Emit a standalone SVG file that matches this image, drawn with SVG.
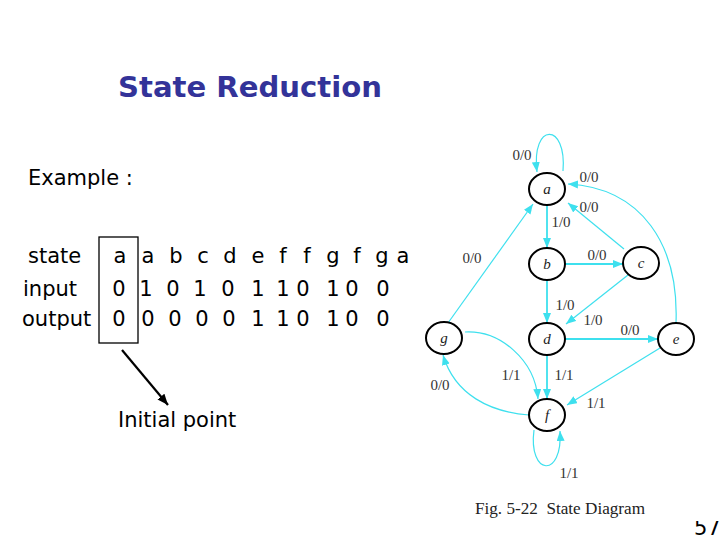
<svg xmlns="http://www.w3.org/2000/svg" width="720" height="540" viewBox="0 0 720 540">
<style>
.body{font-family:"DejaVu Sans","Liberation Sans",sans-serif;font-size:21px;fill:#000}
.title{font-family:"DejaVu Sans","Liberation Sans",sans-serif;font-size:28px;font-weight:bold;fill:#333399}
.node ellipse{fill:#fff;stroke:#000;stroke-width:2}
.nl{font-family:"Liberation Serif","DejaVu Serif",serif;font-style:italic;font-size:15px;fill:#222;text-anchor:middle}
.el{font-family:"Liberation Serif","DejaVu Serif",serif;font-size:15px;fill:#333;text-anchor:middle}
.e{fill:none;stroke:#3ee0ee;stroke-width:1.2}
.e2{fill:none;stroke:#3ee0ee;stroke-width:1.8}
.cap{font-family:"Liberation Serif","DejaVu Serif",serif;font-size:17px;fill:#222}
</style>
<defs>
<marker id="ah" markerUnits="userSpaceOnUse" markerWidth="11" markerHeight="9" refX="10" refY="4" orient="auto">
<path d="M0,0 L10,4 L0,8 z" fill="#3ee0ee"/>
</marker>
<marker id="bh" markerUnits="userSpaceOnUse" markerWidth="12" markerHeight="10" refX="11" refY="4.5" orient="auto">
<path d="M0,0 L11,4.5 L0,9 z" fill="#000"/>
</marker>
<clipPath id="pg"><rect x="680" y="521" width="40" height="19"/></clipPath>
</defs>
<rect width="720" height="540" fill="#fff"/>

<text class="title" x="118" y="97" textLength="264" lengthAdjust="spacingAndGlyphs">State Reduction</text>
<text class="body" x="28" y="185">Example :</text>

<g id="table">
<text class="body" x="28" y="263">state</text>
<text class="body" x="23" y="296">input</text>
<text class="body" x="22" y="326">output</text>
<text class="body" text-anchor="middle" x="120 134 148 162 176 190 203 216 230 244 258 270 283 295 307 320 333 345 357 370 382 393 403" y="263">a a b c d e f f g f g a</text>
<text class="body" text-anchor="middle" x="119 132 146 160 173 187 200 214 228 243 258 270 283 293 303 318 333 343 352 368 383" y="296">0 1 0 1 0 1 1 0 1 0 0</text>
<text class="body" text-anchor="middle" x="119 133 148 161 175 188 202 215 229 243 258 270 283 293 303 318 333 343 352 368 383" y="326">0 0 0 0 0 1 1 0 1 0 0</text>
<rect x="99" y="237" width="39" height="106" fill="none" stroke="#000" stroke-width="1.3"/>
</g>

<g id="initial">
<line x1="122" y1="350" x2="168" y2="405" stroke="#000" stroke-width="2.2" marker-end="url(#bh)"/>
<text class="body" x="118" y="427">Initial point</text>
</g>

<g id="connectors">
<path class="e" d="M563 171 C567 122,531 122,537 172" marker-end="url(#ah)"/>
<line class="e2" x1="547" y1="205" x2="547" y2="248" marker-end="url(#ah)"/>
<line class="e2" x1="565" y1="264" x2="623" y2="264" marker-end="url(#ah)"/>
<line class="e" x1="624" y1="249" x2="568" y2="203" marker-end="url(#ah)"/>
<path class="e" d="M676 323 C679 245,642 188,568 184" marker-end="url(#ah)"/>
<line class="e" x1="448" y1="323" x2="533" y2="204" marker-end="url(#ah)"/>
<line class="e2" x1="547" y1="280" x2="547" y2="323" marker-end="url(#ah)"/>
<line class="e" x1="628" y1="275" x2="566" y2="324" marker-end="url(#ah)"/>
<line class="e2" x1="565" y1="339" x2="658" y2="339" marker-end="url(#ah)"/>
<line class="e2" x1="547" y1="355" x2="547" y2="399" marker-end="url(#ah)"/>
<line class="e" x1="660" y1="348" x2="567" y2="405" marker-end="url(#ah)"/>
<path class="e" d="M465 332 C500 330,535 360,538 399" marker-end="url(#ah)"/>
<path class="e" d="M529 415 C490 412,455 395,443 355" marker-end="url(#ah)"/>
<path class="e" d="M534 430 C528 476,563 479,560 431" marker-end="url(#ah)"/>
<text class="el" x="522" y="160">0/0</text>
<text class="el" x="589" y="182">0/0</text>
<text class="el" x="589" y="212">0/0</text>
<text class="el" x="561" y="227">1/0</text>
<text class="el" x="597" y="260">0/0</text>
<text class="el" x="472" y="263">0/0</text>
<text class="el" x="565" y="310">1/0</text>
<text class="el" x="593" y="325">1/0</text>
<text class="el" x="630" y="335">0/0</text>
<text class="el" x="511" y="380">1/1</text>
<text class="el" x="564" y="380">1/1</text>
<text class="el" x="440" y="390">0/0</text>
<text class="el" x="596" y="408">1/1</text>
<text class="el" x="569" y="478">1/1</text>
</g>

<g id="node-a" class="node"><ellipse cx="547" cy="189" rx="18" ry="16"/><text class="nl" x="547" y="194">a</text></g>
<g id="node-b" class="node"><ellipse cx="547" cy="264" rx="18" ry="16"/><text class="nl" x="547" y="269">b</text></g>
<g id="node-c" class="node"><ellipse cx="641" cy="263" rx="18" ry="16"/><text class="nl" x="641" y="268">c</text></g>
<g id="node-d" class="node"><ellipse cx="547" cy="339" rx="18" ry="16"/><text class="nl" x="547" y="344">d</text></g>
<g id="node-e" class="node"><ellipse cx="676" cy="339" rx="18" ry="16"/><text class="nl" x="676" y="344">e</text></g>
<g id="node-g" class="node"><ellipse cx="444" cy="338" rx="18" ry="16"/><text class="nl" x="444" y="343">g</text></g>
<g id="node-f" class="node"><ellipse cx="547" cy="415" rx="18" ry="16"/><text class="nl" x="547" y="420">f</text></g>

<text class="cap" x="475" y="514" xml:space="preserve" textLength="170" lengthAdjust="spacingAndGlyphs">Fig. 5-22  State Diagram</text>
<text class="body" x="694" y="535" font-size="19" clip-path="url(#pg)">57</text>
</svg>
